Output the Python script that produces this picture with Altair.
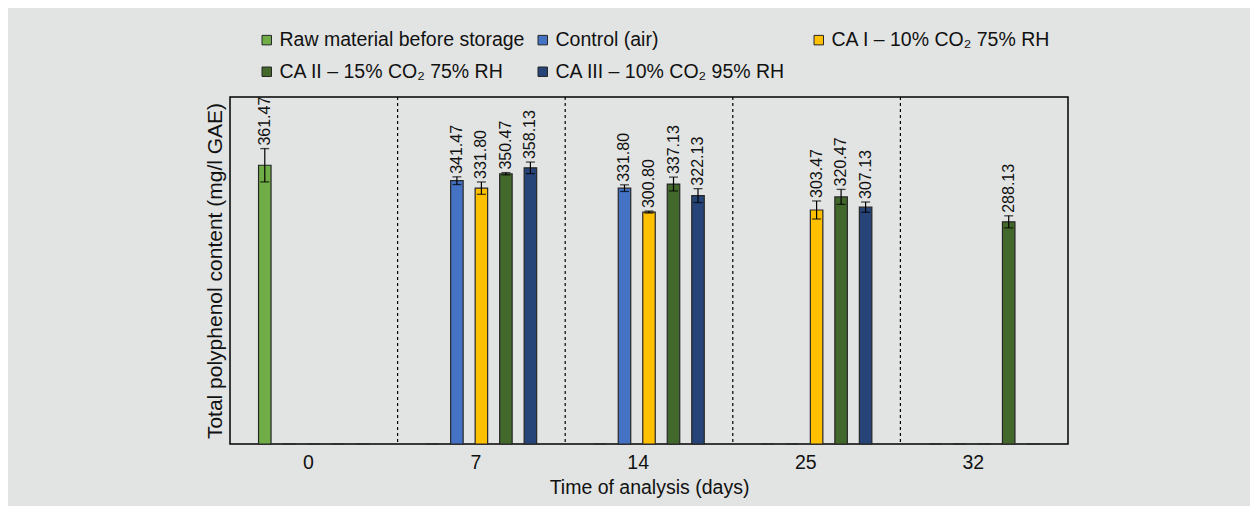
import altair as alt
import pandas as pd

days = ["0", "7", "14", "25", "32"]
series = [
    "Raw material before storage",
    "Control (air)",
    "CA I – 10% CO₂ 75% RH",
    "CA II – 15% CO₂ 75% RH",
    "CA III – 10% CO₂ 95% RH",
]
colors = ["#70ad47", "#4472c4", "#ffc000", "#43682b", "#264478"]

raw = [361.47, 0, 0, 0, 0]
control = [0, 341.47, 331.80, 0, 0]
ca1 = [0, 331.80, 300.80, 303.47, 0]
ca2 = [0, 350.47, 337.13, 320.47, 288.13]
ca3 = [0, 358.13, 322.13, 307.13, 0]

raw_err = [21.6, 0, 0, 0, 0]
control_err = [0, 5.0, 4.3, 0, 0]
ca1_err = [0, 8.0, 1.3, 11.7, 0]
ca2_err = [0, 1.5, 9.0, 9.7, 7.8]
ca3_err = [0, 7.5, 9.0, 6.7, 0]

sep_days = days[1:]
# empty slots on either side of each group of bars (spacing only)
offset_domain = ["_gap_left"] + series + ["_gap_right"]

rows = []
for s, vals, errs in zip(series, [raw, control, ca1, ca2, ca3],
                         [raw_err, control_err, ca1_err, ca2_err, ca3_err]):
    for d, v, e in zip(days, vals, errs):
        rows.append({"day": d, "series": s, "value": v, "err": e,
                     "lo": v - e, "hi": v + e})
df = pd.DataFrame(rows)
df_pos = df[df["value"] > 0]
df_sep = pd.DataFrame({"day": sep_days})

FONT = "Liberation Sans"
TXT = "#111111"

x = alt.X("day:N", sort=days,
          scale=alt.Scale(paddingInner=0, paddingOuter=0),
          axis=alt.Axis(title="Time of analysis (days)", labelAngle=0, ticks=False,
                        domain=False, grid=False, labelFontSize=19.5, titleFontSize=19.5,
                        labelPadding=18, titlePadding=7, labelFont=FONT, titleFont=FONT,
                        titleFontWeight="normal", labelColor=TXT, titleColor=TXT))
xs = alt.X("day:N", sort=days)
xoff = alt.XOffset("series:N",
                   scale=alt.Scale(domain=offset_domain, paddingInner=0.49, paddingOuter=0.165))
yscale = alt.Scale(domain=[0, 450], nice=False)

bars = alt.Chart(df).mark_bar(stroke="#262626", strokeWidth=1.2).encode(
    x=x,
    xOffset=xoff,
    y=alt.Y("value:Q", scale=yscale,
            axis=alt.Axis(title="Total polyphenol content (mg/l GAE)", labels=False,
                          ticks=False, domain=False, grid=False, titleFontSize=21,
                          titleFont=FONT, titleFontWeight="normal", titleColor=TXT,
                          titlePadding=5)),
    color=alt.Color("series:N", sort=series,
                    scale=alt.Scale(domain=series, range=colors),
                    legend=alt.Legend(orient="none", legendX=27, legendY=-67,
                                      direction="horizontal", columns=3, gridAlign="all",
                                      columnPadding=8, rowPadding=11, symbolType="square",
                                      symbolSize=90, symbolStrokeColor="#262626",
                                      symbolStrokeWidth=1, labelFontSize=19.5, labelFont=FONT,
                                      labelColor=TXT, labelOffset=3, title=None,
                                      labelLimit=400, padding=0)),
)

seps = alt.Chart(df_sep).mark_rule(color="#000000", strokeDash=[3, 3], strokeWidth=1.2).encode(
    x=alt.X("day:N", sort=days, bandPosition=0),
)

err_rule = alt.Chart(df_pos).mark_rule(color="#000000", strokeWidth=1.2).encode(
    x=xs, xOffset=xoff,
    y=alt.Y("lo:Q", scale=yscale), y2="hi:Q",
)
cap_hi = alt.Chart(df_pos).mark_tick(color="#000000", size=9, thickness=1.3).encode(
    x=xs, xOffset=xoff, y=alt.Y("hi:Q", scale=yscale),
)
cap_lo = alt.Chart(df_pos).mark_tick(color="#000000", size=9, thickness=1.3).encode(
    x=xs, xOffset=xoff, y=alt.Y("lo:Q", scale=yscale),
)
labels = alt.Chart(df_pos).mark_text(angle=270, align="left", baseline="middle", dx=3,
                                     fontSize=16, font=FONT, color=TXT).encode(
    x=xs, xOffset=xoff,
    y=alt.Y("hi:Q", scale=yscale),
    text=alt.Text("value:Q", format=".2f"),
)

chart = alt.layer(seps, bars, err_rule, cap_hi, cap_lo, labels).properties(
    width=838, height=347,
    autosize=alt.AutoSizeParams(type="none"),
    padding={"left": 222, "top": 89, "right": 182, "bottom": 62},
    background="#e2e4e3",
).configure_view(stroke="#000000", strokeWidth=1.5)

chart.save("out.html", embed_options={"renderer": "svg", "actions": False})
